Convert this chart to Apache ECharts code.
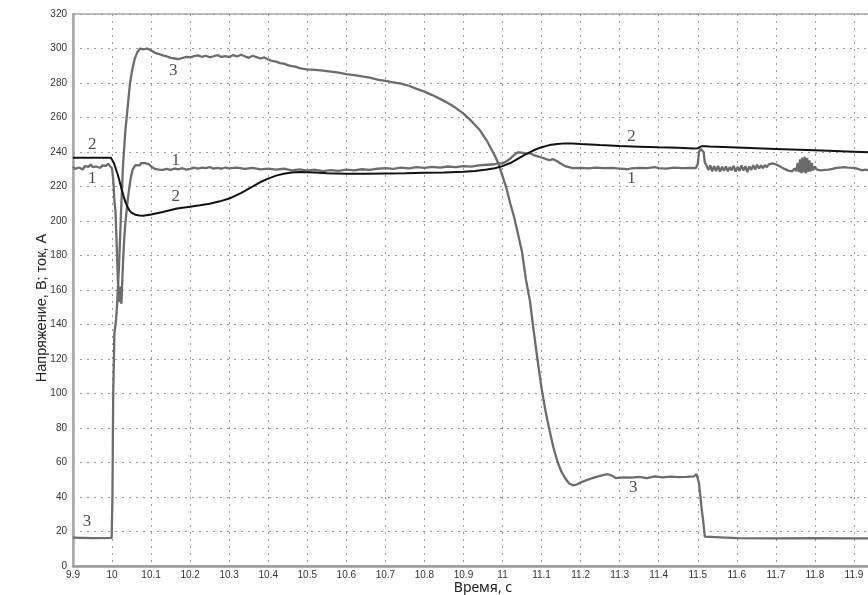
<!DOCTYPE html>
<html>
<head>
<meta charset="utf-8">
<script src="https://cdn.jsdelivr.net/npm/echarts@6/dist/echarts.min.js"></script>
<style>html,body{margin:0;padding:0;background:#fff;overflow:hidden;width:868px;height:595px;}#c{width:893px;height:595px;}</style>
</head>
<body>
<div id="c"></div>
<script>
// Series 1: voltage (gray)
const t1 = [9.9,9.905,9.91,9.915,9.92,9.925,9.93,9.935,9.94,9.945,9.95,9.955,9.96,9.965,9.97,9.975,9.98,9.985,9.99,9.995,10.0,10.003,10.006,10.009,10.012,10.015,10.018,10.021,10.024,10.027,10.03,10.033,10.036,10.04,10.044,10.048,10.053,10.06,10.065,10.07,10.075,10.08,10.085,10.09,10.095,10.1,10.105,10.11,10.115,10.12,10.125,10.13,10.135,10.14,10.15,10.16,10.17,10.18,10.19,10.2,10.21,10.22,10.23,10.24,10.25,10.26,10.27,10.28,10.29,10.3,10.32,10.34,10.36,10.38,10.4,10.42,10.44,10.46,10.48,10.5,10.52,10.54,10.56,10.58,10.6,10.62,10.64,10.66,10.68,10.7,10.72,10.74,10.76,10.78,10.8,10.82,10.84,10.86,10.88,10.9,10.92,10.94,10.96,10.98,10.99,11.0,11.01,11.02,11.03,11.04,11.045,11.05,11.055,11.06,11.07,11.08,11.085,11.09,11.1,11.105,11.11,11.12,11.13,11.14,11.15,11.16,11.17,11.18,11.2,11.22,11.24,11.26,11.28,11.3,11.32,11.33,11.35,11.37,11.39,11.4,11.42,11.44,11.46,11.48,11.495,11.5,11.503,11.507,11.512,11.515,11.518,11.522,11.527,11.532,11.537,11.542,11.547,11.552,11.557,11.562,11.567,11.572,11.577,11.582,11.587,11.592,11.597,11.602,11.607,11.612,11.617,11.622,11.627,11.632,11.637,11.642,11.647,11.652,11.657,11.662,11.667,11.672,11.677,11.682,11.687,11.692,11.697,11.702,11.707,11.712,11.717,11.722,11.727,11.732,11.737,11.742,11.747,11.752,11.756,11.759,11.762,11.765,11.768,11.771,11.774,11.777,11.78,11.783,11.786,11.789,11.792,11.795,11.8,11.805,11.81,11.815,11.82,11.825,11.83,11.835,11.84,11.845,11.85,11.855,11.86,11.865,11.87,11.875,11.88,11.885,11.89,11.9,11.91,11.92,11.93,11.94,11.95];
const v1 = [231.5,230.2,229.6,231,230.4,229.8,231.8,232.6,231.4,232.8,231.2,230.6,231.6,232.5,230.8,232.2,233,232,233.2,231.8,230.5,224,212,205,185,165,153,162,152,170,185,196,203,212,219,225,230,232.4,233.4,232.2,233.6,232.8,233.5,232.4,232.8,231.6,230.8,230.2,229.4,229.8,228.9,229.6,229.2,230.2,229.6,230.4,230,230.6,229.8,230.2,230.9,230.4,231,230.6,231.2,230.4,230.8,230.3,231,230.5,231,230.2,230.8,229.9,230.4,229.8,230.3,229.4,229.9,229.2,229.7,228.9,229.5,229.1,229.8,229.4,230,229.6,230.3,230.6,230.2,230.9,230.5,231.2,230.8,231.4,231,231.6,231.2,231.8,231.5,232.2,232.6,232.9,233.5,233.3,234.6,236.2,238.4,239.8,240.4,239.6,240.2,239,239.4,238.2,238.9,237.5,236.8,237.4,236,235.3,235.8,234.6,233.2,231.8,231.2,230.6,230.8,230.5,230.9,230.6,230.8,230.4,230,230.5,230.8,230.6,231.2,230.7,230.4,230.9,230.6,230.8,230.7,233,240,241.8,242,240,234,232.4,229.6,232.2,228.8,231.8,229,232,228.6,231.4,229.2,231.6,228.8,231.2,229.4,232,228.6,231.4,229,232.3,229.2,231.8,228.4,231.6,229.6,232.4,229.8,232.6,230.4,232.2,230.6,232.4,231.2,232.8,232,233.4,234.2,232.6,233,231.4,231.8,230.2,230.6,229.2,229.6,228.8,230.4,229,233.6,228.4,235.8,227.8,236.8,228.2,237.2,227.6,236.4,228.4,235.2,228.8,233.6,229.4,231.6,229.8,230.6,229.4,230.2,229.6,230,229.8,230.6,230.2,231.2,230.8,231.6,231,231.8,231.2,232,231,231.6,230.8,230.2,229.4,229.8,229.2,229.6];

// Series 2: voltage (black, smooth)
const t2 = [9.9,9.95,9.997,10.0,10.005,10.01,10.015,10.02,10.025,10.03,10.035,10.04,10.045,10.05,10.06,10.07,10.08,10.1,10.13,10.166,10.2,10.225,10.25,10.276,10.3,10.33,10.355,10.38,10.4,10.42,10.44,10.46,10.48,10.5,10.52,10.55,10.6,10.65,10.7,10.75,10.8,10.85,10.9,10.93,10.96,10.98,11.0,11.02,11.04,11.06,11.08,11.1,11.12,11.14,11.16,11.18,11.2,11.25,11.3,11.35,11.4,11.45,11.49,11.5,11.505,11.51,11.52,11.53,11.6,11.7,11.8,11.9,12.0];
const v2 = [236.6,236.6,236.6,236,233.5,230,226.5,222.5,218,214,210.5,208,206,204.8,203.6,203.2,203.1,203.8,205.2,207.2,208.3,209.1,210,211.4,213,216.2,219.4,222.6,224.6,226.3,227.4,228.1,228.4,228.3,228.1,227.7,227.4,227.4,227.6,227.7,227.9,228.1,228.5,229,229.8,230.6,231.8,233.6,236.2,238.8,241,242.8,244,244.7,245,244.9,244.6,244,243.5,243.1,242.7,242.4,242.1,242.2,243,243.4,243.4,243.2,242.6,241.8,241,240.2,239.4];

// Series 3: current (gray)
const t3 = [9.9,9.95,9.999,10.001,10.003,10.006,10.01,10.013,10.018,10.023,10.028,10.034,10.04,10.046,10.052,10.058,10.065,10.072,10.08,10.09,10.1,10.11,10.12,10.13,10.14,10.15,10.16,10.17,10.18,10.19,10.2,10.21,10.22,10.23,10.24,10.25,10.26,10.27,10.28,10.29,10.3,10.31,10.32,10.33,10.34,10.35,10.36,10.37,10.38,10.39,10.4,10.41,10.42,10.43,10.44,10.45,10.46,10.47,10.48,10.49,10.5,10.52,10.54,10.56,10.58,10.6,10.62,10.64,10.66,10.68,10.7,10.72,10.74,10.76,10.78,10.8,10.82,10.84,10.86,10.88,10.9,10.92,10.94,10.96,10.98,10.99,11.0,11.01,11.02,11.03,11.04,11.05,11.06,11.07,11.08,11.09,11.1,11.11,11.12,11.13,11.14,11.15,11.16,11.17,11.18,11.19,11.2,11.22,11.24,11.26,11.27,11.28,11.29,11.31,11.33,11.35,11.37,11.39,11.41,11.43,11.45,11.47,11.49,11.497,11.503,11.506,11.51,11.514,11.518,11.52,11.6,11.7,11.8,11.9,12.0];
const v3 = [16.4,16.2,16.3,40,100,135,142,152,175,205,232,252,266,280,288,294,298,300,299.5,300,298.8,297.5,296.8,296,295.5,294.6,294.2,293.8,294.5,295.2,294.8,295.6,296,295.2,295.8,294.9,295.5,296.2,295.1,295.6,295,296.2,295.4,296.4,295.5,294.6,295.8,295,294.2,294.8,293.6,292.8,292.4,291.5,291.2,290.4,289.8,289.5,288.6,288.2,287.9,287.6,287.2,286.6,286,285.2,284.6,283.8,283.1,282,281.2,280.4,279.6,278.4,276.6,275,273,270.8,268.4,265.6,262.2,258,253.2,246.5,238,233,226,219,210,202,192,182,166,154,136,119,103,90,79,69,61,55,51,48,46.8,47.2,48.4,50.2,51.7,52.8,53.2,52.4,51,51.4,51.2,51.7,51,51.9,51.4,51.8,51.5,51.7,52,53.2,48,42,33,26,17,16,16.2,16,16.1,16,16];

// Curve number annotations
const labelText = ['2','1','3','1','2','3','2','1','3'];
const labelT = [9.949,9.949,10.157,10.163,10.163,9.936,11.33,11.33,11.335];
const labelV = [244.5,224.6,287.4,235.2,214,25.9,249,224.6,45.4];

// Axis ticks
const xMin = 9.9, xMax = 12.0, xStep = 0.1;
const yMin = 0, yMax = 320, yStep = 20;

const zip = (a, b) => a.map((x, i) => [x, b[i]]);
const GRAY = '#6c6c6c';

const chart = echarts.init(document.getElementById('c'), null, {renderer: 'canvas'});
chart.setOption({
  animation: false,
  backgroundColor: '#fff',
  grid: {left: 73, right: 0, top: 14, bottom: 29, outerBoundsMode: 'none', containLabel: false,
    show: true, borderColor: '#a8a8a8', borderWidth: 1.5, backgroundColor: 'transparent'},
  xAxis: {
    type: 'value', min: xMin, max: xMax, interval: xStep,
    name: 'Время, с', nameLocation: 'middle', nameGap: 15, nameMoveOverlap: false,
    nameTextStyle: {fontFamily: 'Noto Sans', fontSize: 14, color: '#222', verticalAlign: 'top'},
    axisLine: {show: true, onZero: false, lineStyle: {color: '#9a9a9a', width: 2.5}},
    axisTick: {show: false},
    axisLabel: {fontFamily: 'Liberation Sans', fontSize: 10, color: '#333', margin: 4,
      formatter: v => String(Math.round(v * 10) / 10)},
    splitLine: {show: true, lineStyle: {color: '#9a9a9a', type: [2, 5], width: 1}}
  },
  yAxis: {
    type: 'value', min: yMin, max: yMax, interval: yStep,
    name: 'Напряжение, В; ток, А', nameLocation: 'middle', nameGap: 24, nameMoveOverlap: false,
    nameTextStyle: {fontFamily: 'Liberation Sans', fontSize: 14.5, color: '#222', padding: [0, 36, 0, 0]},
    axisLine: {show: true, lineStyle: {color: '#a8a8a8', width: 2.5}},
    axisTick: {show: false},
    axisLabel: {fontFamily: 'Liberation Sans', fontSize: 10, color: '#333', margin: 6},
    splitLine: {show: true, lineStyle: {color: '#9a9a9a', type: [2, 5], width: 1}}
  },
  series: [
    {type: 'line', data: zip(t3, v3), showSymbol: false, lineStyle: {color: GRAY, width: 2.3}, z: 3},
    {type: 'line', data: zip(t1, v1), showSymbol: false, lineStyle: {color: GRAY, width: 2.3}, z: 3},
    {type: 'line', data: zip(t2, v2), showSymbol: false, lineStyle: {color: '#111', width: 2}, z: 4},
    {type: 'scatter', data: labelT.map((t, i) => ({value: [t, labelV[i]], name: labelText[i]})),
      symbolSize: 2, itemStyle: {color: 'rgba(255,255,255,0)'}, z: 5,
      label: {show: true, position: 'inside', formatter: p => p.name,
        fontFamily: 'Liberation Serif', fontSize: 17, color: '#222'}}
  ]
});
</script>
</body>
</html>
